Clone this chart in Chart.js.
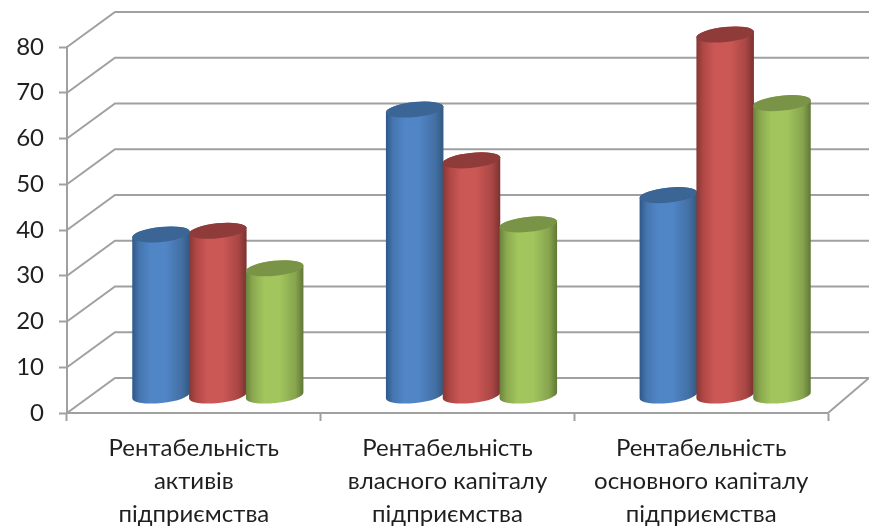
<!DOCTYPE html>
<html lang="uk">
<head>
    <meta charset="UTF-8">
    <title>Рентабельність</title>
    <script src="https://cdn.jsdelivr.net/npm/chart.js@4"></script>
    <style>
        html, body { margin: 0; padding: 0; background: #fff; }
        #wrap { width: 869px; height: 526px; position: relative; }
    </style>
</head>
<body>
    <div id="wrap"><canvas id="chart" width="869" height="526"></canvas></div>
    <script>
        const categories = [
            ['Рентабельність', 'активів', 'підприємства'],
            ['Рентабельність', 'власного капіталу', 'підприємства'],
            ['Рентабельність', 'основного капіталу', 'підприємства']
        ];
        const seriesBlue = [35.2, 62.5, 43.8];
        const seriesRed = [36, 51.4, 78.9];
        const seriesGreen = [27.8, 37.4, 63.9];

        const gridColor = '#a0a0a0';
        const depthX = 48;
        const depthY = 35;
        const tilt = -6 * Math.PI / 180;

        const colors = [
            { edgeL: '#2f5687', soft: '#4475ae', mid: '#5085c6', softR: '#436fa3', edgeR: '#32587f', top: '#3a6595' },
            { edgeL: '#853735', soft: '#ae4745', mid: '#cc5856', softR: '#a84644', edgeR: '#783230', top: '#8f3b39' },
            { edgeL: '#6a823b', soft: '#8aa84f', mid: '#a2c65d', softR: '#87a44e', edgeR: '#5f7635', top: '#7a9447' }
        ];

        // walls and floor behind the bars
        const wallsPlugin = {
            id: 'walls',
            beforeDatasetsDraw(chart) {
                const ctx = chart.ctx;
                const y = chart.scales.y;
                const area = chart.chartArea;
                ctx.save();
                ctx.strokeStyle = gridColor;
                ctx.lineWidth = 2;
                y.ticks.forEach(t => {
                    const py = y.getPixelForValue(t.value);
                    ctx.beginPath();
                    ctx.moveTo(area.left, py);
                    ctx.lineTo(area.left + depthX, py - depthY);
                    ctx.lineTo(chart.width, py - depthY);
                    ctx.stroke();
                });
                ctx.beginPath();
                ctx.moveTo(area.right, area.bottom);
                ctx.lineTo(chart.width, area.bottom - depthY);
                ctx.stroke();
                ctx.restore();
            }
        };

        // draws each bar element as a cylinder
        const cylinderPlugin = {
            id: 'cylinder',
            afterDatasetsDraw(chart) {
                const ctx = chart.ctx;
                chart.data.datasets.forEach((ds, i) => {
                    const c = colors[i];
                    chart.getDatasetMeta(i).data.forEach(el => {
                        const cx = el.x + depthX / 2;
                        const topY = el.y - depthY / 2;
                        const baseY = el.base - depthY / 2 + 0.5;
                        const rx = el.width / 2 + 0.5;
                        const ry = 7.5;
                        const grad = ctx.createLinearGradient(cx - rx, 0, cx + rx, 0);
                        grad.addColorStop(0, c.edgeL);
                        grad.addColorStop(0.12, c.soft);
                        grad.addColorStop(0.32, c.mid);
                        grad.addColorStop(0.58, c.mid);
                        grad.addColorStop(0.86, c.softR);
                        grad.addColorStop(1, c.edgeR);
                        ctx.save();
                        ctx.fillStyle = grad;
                        ctx.beginPath();
                        ctx.ellipse(cx, baseY, rx, ry, tilt, 0, Math.PI);
                        ctx.ellipse(cx, topY, rx, ry, tilt, Math.PI, Math.PI * 2);
                        ctx.closePath();
                        ctx.fill();
                        ctx.fillStyle = c.top;
                        ctx.beginPath();
                        ctx.ellipse(cx, topY, rx, ry, tilt, 0, Math.PI * 2);
                        ctx.fill();
                        ctx.restore();
                    });
                });
            }
        };

        new Chart(document.getElementById('chart').getContext('2d'), {
            type: 'bar',
            data: {
                labels: categories,
                datasets: [
                    { data: seriesBlue, backgroundColor: 'transparent' },
                    { data: seriesRed, backgroundColor: 'transparent' },
                    { data: seriesGreen, backgroundColor: 'transparent' }
                ]
            },
            options: {
                responsive: false,
                animation: false,
                layout: { padding: { top: 47, right: 41, left: 0, bottom: 0 } },
                categoryPercentage: 0.672,
                barPercentage: 1,
                plugins: { legend: { display: false }, tooltip: { enabled: false } },
                scales: {
                    x: {
                        afterFit(scale) { scale.height = 113; },
                        grid: { drawOnChartArea: false, tickLength: 8, tickColor: gridColor, tickWidth: 2, offset: true },
                        border: { color: gridColor, width: 2 },
                        ticks: {
                            autoSkip: false,
                            maxRotation: 0,
                            padding: 11,
                            color: '#1f1f1f',
                            font: { family: 'Lato, "Open Sans", sans-serif', size: 24, lineHeight: 1.375 }
                        }
                    },
                    y: {
                        min: 0,
                        max: 80,
                        afterFit(scale) { scale.width = 67; },
                        grid: { drawOnChartArea: false, tickLength: 8, tickColor: gridColor, tickWidth: 2 },
                        border: { color: gridColor, width: 2 },
                        ticks: {
                            stepSize: 10,
                            padding: 15,
                            color: '#1f1f1f',
                            font: { family: 'Lato, "Open Sans", sans-serif', size: 24 }
                        }
                    }
                }
            },
            plugins: [wallsPlugin, cylinderPlugin]
        });
    </script>
</body>
</html>
